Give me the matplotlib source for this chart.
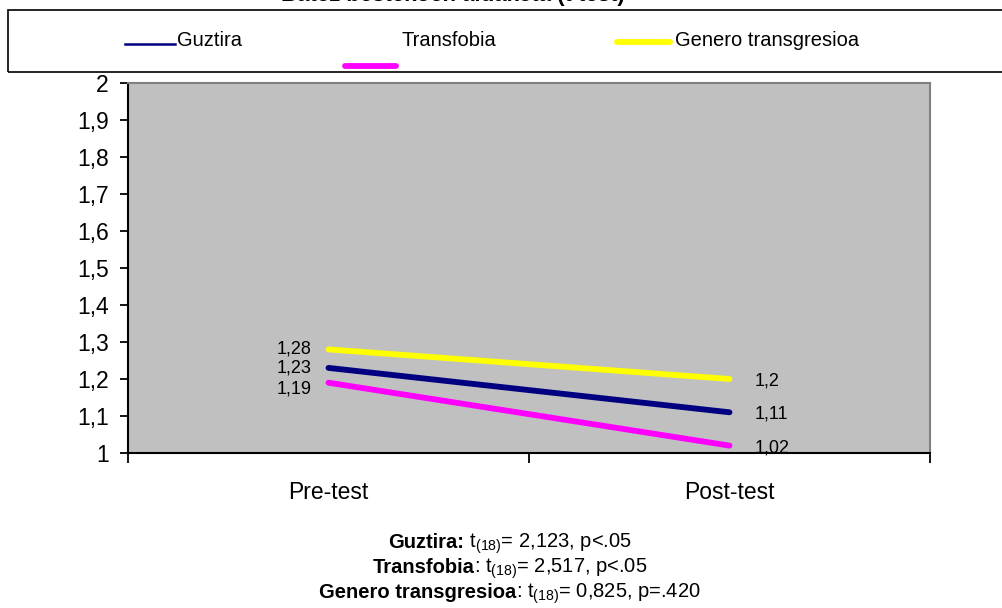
import matplotlib
matplotlib.use("Agg")
import matplotlib.pyplot as plt
from matplotlib.lines import Line2D
from matplotlib.patches import Rectangle

plt.rcParams["font.family"] = ["Liberation Sans", "DejaVu Sans"]
plt.rcParams["mathtext.fontset"] = "custom"
plt.rcParams["mathtext.rm"] = "Liberation Sans"
plt.rcParams["mathtext.bf"] = "Liberation Sans:bold"
plt.rcParams["mathtext.it"] = "Liberation Sans:italic"

# Datos
momentos = ["Pre-test", "Post-test"]
series = ["Guztira", "Transfobia", "Genero transgresioa"]
guztira = [1.23, 1.11]
transfobia = [1.19, 1.02]
genero = [1.28, 1.20]
etiquetas_pre = ["1,23", "1,19", "1,28"]
etiquetas_post = ["1,11", "1,02", "1,2"]
yticks = [1.0, 1.1, 1.2, 1.3, 1.4, 1.5, 1.6, 1.7, 1.8, 1.9, 2.0]
ytick_labels = ["1", "1,1", "1,2", "1,3", "1,4", "1,5", "1,6", "1,7", "1,8", "1,9", "2"]
est_negrita = ["Guztira:", "Transfobia", "Genero transgresioa"]
est_resto = [
    r" t$_{(18)}$= 2,123, p<.05",
    r": t$_{(18)}$= 2,517, p<.05",
    r": t$_{(18)}$= 0,825, p=.420",
]
colores = ["#000080", "#FF00FF", "#FFFF00"]

W, H = 1002, 608
fig = plt.figure(figsize=(W / 100, H / 100), dpi=100)
ax = fig.add_axes([128 / W, 1 - 453 / H, 802 / W, 370 / H])
ax.set_facecolor("#C0C0C0")

x = list(range(len(momentos)))
valores = [guztira, transfobia, genero]
for vals, color, lpre, lpost in zip(valores, colores, etiquetas_pre, etiquetas_post):
    ax.plot(x, vals, color=color, lw=4.2, solid_capstyle="round", zorder=3)
    dy_pre = -6 if lpre == "1,19" else 0
    ax.annotate(lpre, (x[0], vals[0]), xytext=(-17, dy_pre), textcoords="offset pixels",
                ha="right", va="center", fontsize=13)
    ax.annotate(lpost, (x[1], vals[1]), xytext=(25, -2), textcoords="offset pixels",
                ha="left", va="center", fontsize=13)

ax.set_xlim(-0.5, 1.5)
ax.set_ylim(1, 2)
ax.set_yticks(yticks)
ax.set_yticklabels(ytick_labels, fontsize=16.5)
ax.set_xticks(x)
ax.set_xticklabels(momentos, fontsize=16.5)
ax.set_xticks([-0.5, 0.5, 1.5], minor=True)
ax.tick_params(axis="x", which="major", length=0, pad=20)
ax.tick_params(axis="x", which="minor", length=7, width=1.3, direction="out")
ax.tick_params(axis="y", length=6, width=1.3, direction="out", pad=8)

for lado in ["left", "bottom"]:
    ax.spines[lado].set_color("black")
    ax.spines[lado].set_linewidth(1.5)
for lado in ["top", "right"]:
    ax.spines[lado].set_color("#808080")
    ax.spines[lado].set_linewidth(1.5)

# Titulo cortado arriba
fig.text(625 / W, 1 - 1 / H, "Batez bestekoen aldaketa (t test)", ha="right",
         va="baseline", fontsize=16, fontweight="bold")

# Leyenda manual
fig.patches.append(Rectangle((8 / W, 1 - 72 / H), 1.0, 62 / H, transform=fig.transFigure,
                             fill=False, edgecolor="black", lw=1.2, clip_on=False))
fig.lines.append(Line2D([125 / W, 175 / W], [1 - 44 / H] * 2, transform=fig.transFigure,
                        color=colores[0], lw=1.8))
fig.text(177 / W, 1 - 40 / H, series[0], ha="left", va="center", fontsize=14.5)
fig.lines.append(Line2D([345 / W, 396 / W], [1 - 66 / H] * 2, transform=fig.transFigure,
                        color=colores[1], lw=4.2, solid_capstyle="round"))
fig.text(402 / W, 1 - 40 / H, series[1], ha="left", va="center", fontsize=14.5)
fig.lines.append(Line2D([617 / W, 670 / W], [1 - 42 / H] * 2, transform=fig.transFigure,
                        color=colores[2], lw=4.2, solid_capstyle="round"))
fig.text(675 / W, 1 - 40 / H, series[2], ha="left", va="center", fontsize=14.5)

# Estadisticos: parte en negrita + resto, centrado en conjunto
renderer = fig.canvas.get_renderer()
for i, (neg, resto) in enumerate(zip(est_negrita, est_resto)):
    y = 1 - (548 + 25 * i) / H
    t1 = fig.text(0, y, neg, ha="left", va="baseline", fontsize=14.5, fontweight="bold")
    t2 = fig.text(0, y, resto, ha="left", va="baseline", fontsize=14.5)
    w1 = t1.get_window_extent(renderer).width
    w2 = t2.get_window_extent(renderer).width
    x0 = 510 - (w1 + w2) / 2
    t1.set_x(x0 / W)
    t2.set_x((x0 + w1) / W)

fig.savefig("out.png", dpi=100)
